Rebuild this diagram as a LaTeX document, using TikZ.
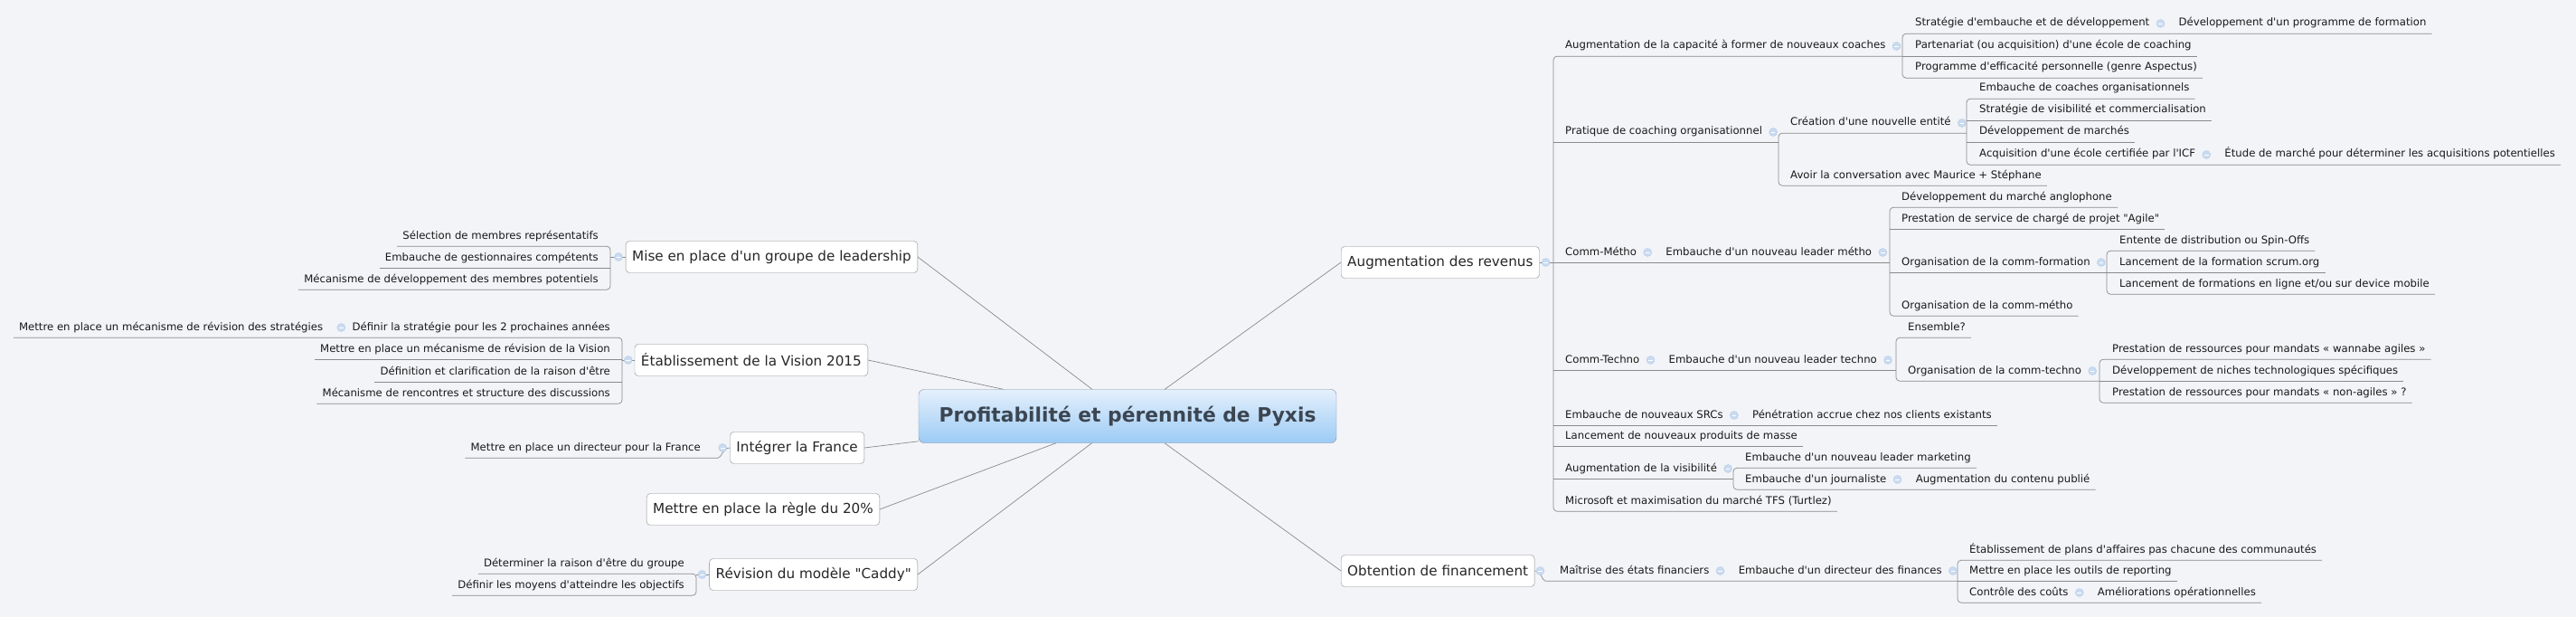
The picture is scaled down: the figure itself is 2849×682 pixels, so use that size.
\documentclass[tikz,border=0pt]{standalone}
\usepackage{fontspec}
\usepackage{tikz}
\usetikzlibrary{shapes,calc}
\newfontfamily\mapfont{DejaVu Sans}
\definecolor{bg}{HTML}{F3F4F8}
\definecolor{linegray}{HTML}{8A8A8A}
\definecolor{boxline}{HTML}{8C8C8C}
\definecolor{foldfill}{HTML}{C9DBF0}
\definecolor{foldline}{HTML}{B3CAE5}
\definecolor{roottop}{HTML}{E4F0FC}
\definecolor{rootbot}{HTML}{9CCBF5}
\definecolor{rootline}{HTML}{7D8EA3}
\definecolor{roottext}{HTML}{3C4652}

\begin{document}
\begin{tikzpicture}
[x=1pt, y=-1pt,
root/.style={rectangle, rounded corners=6, draw=rootline, top color=roottop, bottom color=rootbot, minimum width=462, minimum height=59, font=\mapfont\bfseries\fontsize{21.8}{24}\selectfont, text=roottext},
topic/.style={rectangle, rounded corners=4, draw=boxline, fill=white, minimum height=35, inner xsep=7, font=\mapfont\fontsize{15.2}{18}\selectfont, text=black!85},
leaf/.style={inner xsep=6, inner ysep=5, text height=9, text depth=3, font=\mapfont\fontsize{11.7}{13}\selectfont, text=black!90},
fold/.style={circle, draw=foldline, fill=foldfill, minimum size=9, inner sep=0, path picture={\draw[white, line width=0.8] ([xshift=-2.3]path picture bounding box.center) -- ([xshift=2.3]path picture bounding box.center);}},
trunk/.style={draw=linegray, line width=0.7},
link/.style={draw=linegray, line width=0.7, rounded corners=4}]

\fill [bg] (0, 0) rectangle (2849, 682);
\useasboundingbox (0, 0) rectangle (2849, 682);

\node (root) at (1247, 460) [root] {Profitabilité et pérennité de Pyxis};

\node (rev) at (1483, 290) [topic, anchor=west] {Augmentation des revenus};
\node (fin) at (1483, 631) [topic, anchor=west] {Obtention de financement};
\node (lead) at (1015, 284) [topic, anchor=east] {Mise en place d'un groupe de leadership};
\node (vis) at (960, 398) [topic, anchor=east] {Établissement de la Vision 2015};
\node (fra) at (956, 495) [topic, anchor=east] {Intégrer la France};
\node (regle) at (973, 563) [topic, anchor=east] {Mettre en place la règle du 20\%};
\node (cad) at (1015, 635) [topic, anchor=east] {Révision du modèle "Caddy"};

\draw [trunk] (root) -- (rev.west);
\draw [trunk] (root) -- (fin.west);
\draw [trunk] (root) -- (lead.east);
\draw [trunk] (root) -- (vis.east);
\draw [trunk] (root) -- (fra.east);
\draw [trunk] (root) -- (regle.east);
\draw [trunk] (root) -- (cad.east);

% Augmentation des revenus
\coordinate (kRev) at (1718, 290);
\node (cap) at (1725, 51) [leaf, anchor=west] {Augmentation de la capacité à former de nouveaux coaches};
\node (prat) at (1725, 146) [leaf, anchor=west] {Pratique de coaching organisationnel};
\node (cmet) at (1725, 279) [leaf, anchor=west] {Comm-Métho};
\node (ctec) at (1725, 398) [leaf, anchor=west] {Comm-Techno};
\node (src) at (1725, 459) [leaf, anchor=west] {Embauche de nouveaux SRCs};
\node (masse) at (1725, 482) [leaf, anchor=west] {Lancement de nouveaux produits de masse};
\node (visi) at (1725, 518) [leaf, anchor=west] {Augmentation de la visibilité};
\node (ms) at (1725, 554) [leaf, anchor=west] {Microsoft et maximisation du marché TFS (Turtlez)};

\coordinate (kCap) at (2104, 62);
\node (cap1) at (2112, 26) [leaf, anchor=west] {Stratégie d'embauche et de développement};
\node (cap1b) at ([xshift=20]cap1.east) [leaf, anchor=west] {Développement d'un programme de formation};
\node (cap2) at (2112, 51) [leaf, anchor=west] {Partenariat (ou acquisition) d'une école de coaching};
\node (cap3) at (2112, 75) [leaf, anchor=west] {Programme d'efficacité personnelle (genre Aspectus)};

\coordinate (kPrat) at (1967, 157);
\node (crea) at (1974, 136) [leaf, anchor=west] {Création d'une nouvelle entité};
\node (conv) at (1974, 194) [leaf, anchor=west] {Avoir la conversation avec Maurice + Stéphane};

\coordinate (kCrea) at (2175, 147);
\node (crea1) at (2183, 98) [leaf, anchor=west] {Embauche de coaches organisationnels};
\node (crea2) at (2183, 122) [leaf, anchor=west] {Stratégie de visibilité et commercialisation};
\node (crea3) at (2183, 146) [leaf, anchor=west] {Développement de marchés};
\node (crea4) at (2183, 171) [leaf, anchor=west] {Acquisition d'une école certifiée par l'ICF};
\node (crea4b) at ([xshift=20]crea4.east) [leaf, anchor=west] {Étude de marché pour déterminer les acquisitions potentielles};

\node (met) at ([xshift=20]cmet.east) [leaf, anchor=west] {Embauche d'un nouveau leader métho};
\coordinate (kMet) at (2090, 290);
\node (met1) at (2097, 218) [leaf, anchor=west] {Développement du marché anglophone};
\node (met2) at (2097, 242) [leaf, anchor=west] {Prestation de service de chargé de projet "Agile"};
\node (form) at (2097, 290) [leaf, anchor=west] {Organisation de la comm-formation};
\node (met3) at (2097, 338) [leaf, anchor=west] {Organisation de la comm-métho};
\coordinate (kForm) at (2330, 301);
\node (form1) at (2338, 266) [leaf, anchor=west] {Entente de distribution ou Spin-Offs};
\node (form2) at (2338, 290) [leaf, anchor=west] {Lancement de la formation scrum.org};
\node (form3) at (2338, 314) [leaf, anchor=west] {Lancement de formations en ligne et/ou sur device mobile};

\node (tec) at ([xshift=20]ctec.east) [leaf, anchor=west] {Embauche d'un nouveau leader techno};
\coordinate (kTec) at (2097, 409);
\node (tec1) at (2104, 362) [leaf, anchor=west] {Ensemble?};
\node (orgt) at (2104, 410) [leaf, anchor=west] {Organisation de la comm-techno};
\coordinate (kOrgt) at (2322, 421);
\node (orgt1) at (2330, 386) [leaf, anchor=west] {Prestation de ressources pour mandats « wannabe agiles »};
\node (orgt2) at (2330, 410) [leaf, anchor=west] {Développement de niches technologiques spécifiques};
\node (orgt3) at (2330, 434) [leaf, anchor=west] {Prestation de ressources pour mandats « non-agiles » ?};

\node (srcb) at ([xshift=20]src.east) [leaf, anchor=west] {Pénétration accrue chez nos clients existants};

\coordinate (kVisi) at (1917, 529);
\node (visi1) at (1924, 506) [leaf, anchor=west] {Embauche d'un nouveau leader marketing};
\node (visi2) at (1924, 530) [leaf, anchor=west] {Embauche d'un journaliste};
\node (visi2b) at ([xshift=20]visi2.east) [leaf, anchor=west] {Augmentation du contenu publié};

\draw [trunk] (rev.east) -- (kRev);
\draw [link] (cap.south -| kCap) -- (cap.south -| kRev) -- (ms.south -| kRev) -- (ms.south east);
\draw [link] (prat.south -| kRev) -- (prat.south -| kPrat);
\draw [link] (cmet.south -| kRev) -- (met.south -| kMet);
\draw [link] (ctec.south -| kRev) -- (tec.south -| kTec);
\draw [link] (src.south -| kRev) -- (srcb.south east);
\draw [link] (masse.south -| kRev) -- (masse.south east);
\draw [link] (visi.south -| kRev) -- (visi.south -| kVisi);

\draw [link] (cap1b.south east) -- (cap1.south -| kCap) -- (cap3.south -| kCap) -- (cap3.south east);
\draw [link] (cap2.south -| kCap) -- (cap2.south east);

\draw [link] (crea.south -| kCrea) -- (crea.south -| kPrat) -- (conv.south -| kPrat) -- (conv.south east);
\draw [link] (crea1.south east) -- (crea1.south -| kCrea) -- (crea4.south -| kCrea) -- (crea4b.south east);
\draw [link] (crea2.south -| kCrea) -- (crea2.south east);
\draw [link] (crea3.south -| kCrea) -- (crea3.south east);

\draw [link] (met1.south east) -- (met1.south -| kMet) -- (met3.south -| kMet) -- (met3.south east);
\draw [link] (met2.south -| kMet) -- (met2.south east);
\draw [link] (form.south -| kMet) -- (form.south -| kForm);
\draw [link] (form1.south east) -- (form1.south -| kForm) -- (form3.south -| kForm) -- (form3.south east);
\draw [link] (form2.south -| kForm) -- (form2.south east);

\draw [link] (tec1.south east) -- (tec1.south -| kTec) -- (orgt.south -| kTec) -- (orgt.south -| kOrgt);
\draw [link] (orgt1.south east) -- (orgt1.south -| kOrgt) -- (orgt3.south -| kOrgt) -- (orgt3.south east);
\draw [link] (orgt2.south -| kOrgt) -- (orgt2.south east);

\draw [link] (visi1.south east) -- (visi1.south -| kVisi) -- (visi2.south -| kVisi) -- (visi2b.south east);

% Obtention de financement
\node (mai) at (1719, 631) [leaf, anchor=west] {Maîtrise des états financiers};
\node (dir) at ([xshift=20]mai.east) [leaf, anchor=west] {Embauche d'un directeur des finances};
\coordinate (kFin) at (2165, 642);
\node (fin1) at (2172, 608) [leaf, anchor=west] {Établissement de plans d'affaires pas chacune des communautés};
\node (fin2) at (2172, 631) [leaf, anchor=west] {Mettre en place les outils de reporting};
\node (fin3) at (2172, 655) [leaf, anchor=west] {Contrôle des coûts};
\node (fin3b) at ([xshift=20]fin3.east) [leaf, anchor=west] {Améliorations opérationnelles};

\draw [link] (fin.east) to [out=0, in=180] ([xshift=-6]mai.south west) -- (dir.south -| kFin);
\draw [link] (fin1.south east) -- (fin1.south -| kFin) -- (fin3.south -| kFin) -- (fin3b.south east);
\draw [link] (fin2.south -| kFin) -- (fin2.south east);

% left side
\coordinate (kLead) at (675, 284);
\node (lead1) at (668, 261) [leaf, anchor=east] {Sélection de membres représentatifs};
\node (lead2) at (668, 285) [leaf, anchor=east] {Embauche de gestionnaires compétents};
\node (lead3) at (668, 309) [leaf, anchor=east] {Mécanisme de développement des membres potentiels};
\draw [trunk] (lead.west) -- (lead.west -| kLead);
\draw [link] (lead1.south west) -- (lead1.south -| kLead) -- (lead3.south -| kLead) -- (lead3.south west);
\draw [link] (lead2.south -| kLead) -- (lead2.south west);

\coordinate (kVis) at (688, 398);
\node (vis1) at (681, 362) [leaf, anchor=east] {Définir la stratégie pour les 2 prochaines années};
\node (vis1b) at ([xshift=-20]vis1.west) [leaf, anchor=east] {Mettre en place un mécanisme de révision des stratégies};
\node (vis2) at (681, 386) [leaf, anchor=east] {Mettre en place un mécanisme de révision de la Vision};
\node (vis3) at (681, 411) [leaf, anchor=east] {Définition et clarification de la raison d'être};
\node (vis4) at (681, 435) [leaf, anchor=east] {Mécanisme de rencontres et structure des discussions};
\draw [trunk] (vis.west) -- (vis.west -| kVis);
\draw [link] (vis1b.south west) -- (vis1.south -| kVis) -- (vis4.south -| kVis) -- (vis4.south west);
\draw [link] (vis2.south -| kVis) -- (vis2.south west);
\draw [link] (vis3.south -| kVis) -- (vis3.south west);

\node (fra1) at (781, 495) [leaf, anchor=east] {Mettre en place un directeur pour la France};
\draw [link] (fra1.south west) -- ([xshift=9]fra1.south east) to [out=0, in=180] (fra.west);

\coordinate (kCad) at (770, 635);
\node (cad1) at (763, 623) [leaf, anchor=east] {Déterminer la raison d'être du groupe};
\node (cad2) at (763, 647) [leaf, anchor=east] {Définir les moyens d'atteindre les objectifs};
\draw [trunk] (cad.west) -- (cad.west -| kCad);
\draw [link] (cad1.south west) -- (cad1.south -| kCad) -- (cad2.south -| kCad) -- (cad2.south west);

% fold markers
\node (fRev) at ([xshift=7]rev.east) [fold] {};
\node (fFin) at ([xshift=6]fin.east) [fold] {};
\node (fCap) at ([xshift=6]cap.east) [fold] {};
\node (fCap1) at ([xshift=6]cap1.east) [fold] {};
\node (fPrat) at ([xshift=6]prat.east) [fold] {};
\node (fCrea) at ([xshift=6]crea.east) [fold] {};
\node (fCrea4) at ([xshift=6]crea4.east) [fold] {};
\node (fCmet) at ([xshift=6]cmet.east) [fold] {};
\node (fMet) at ([xshift=6]met.east) [fold] {};
\node (fForm) at ([xshift=6]form.east) [fold] {};
\node (fCtec) at ([xshift=6]ctec.east) [fold] {};
\node (fTec) at ([xshift=6]tec.east) [fold] {};
\node (fOrgt) at ([xshift=6]orgt.east) [fold] {};
\node (fSrc) at ([xshift=6]src.east) [fold] {};
\node (fVisi) at ([xshift=6]visi.east) [fold] {};
\node (fVisi2) at ([xshift=6]visi2.east) [fold] {};
\node (fMai) at ([xshift=6]mai.east) [fold] {};
\node (fDir) at ([xshift=6]dir.east) [fold] {};
\node (fFin3) at ([xshift=6]fin3.east) [fold] {};
\node (fLead) at ([xshift=-8]lead.west) [fold] {};
\node (fVis) at ([xshift=-7]vis.west) [fold] {};
\node (fVis1) at ([xshift=-6]vis1.west) [fold] {};
\node (fFra) at ([xshift=-8]fra.west) [fold] {};
\node (fCad) at ([xshift=-8]cad.west) [fold] {};
\end{tikzpicture}
\end{document}
